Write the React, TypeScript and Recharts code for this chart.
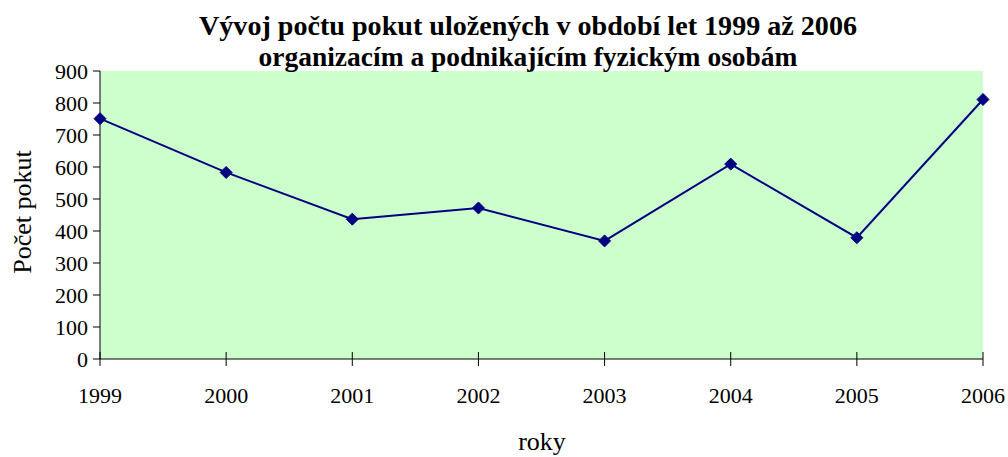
import * as React from "react"
import { LineChart, Line, XAxis, YAxis, CartesianGrid, Customized } from "recharts"

const years = ["1999", "2000", "2001", "2002", "2003", "2004", "2005", "2006"]
const fines = [751, 583, 437, 472, 369, 609, 379, 811]
const yTicks = [0, 100, 200, 300, 400, 500, 600, 700, 800, 900]

const titleLine1 = "Vývoj počtu pokut uložených v období let 1999 až 2006"
const titleLine2 = "organizacím a podnikajícím fyzickým osobám"
const yTitle = "Počet pokut"
const xTitle = "roky"

const data = years.map((y, i) => ({ year: y, value: fines[i] }))

const FONT = "'Liberation Serif', 'Times New Roman', serif"

function Diamond(props: any) {
  const { cx, cy } = props
  if (cx == null || cy == null) return null
  const r = 6
  return (
    <polygon
      points={`${cx},${cy - r} ${cx + r},${cy} ${cx},${cy + r} ${cx - r},${cy}`}
      fill="#000080"
      stroke="#000080"
    />
  )
}

function YearTick(props: any) {
  const { x, y, payload } = props
  return (
    <g>
      <line x1={x} x2={x} y1={y - 7} y2={y + 7} stroke="#000" strokeWidth={1} />
      <text x={x} y={y + 44} textAnchor="middle" fontFamily={FONT} fontSize={22} fill="#000">
        {payload.value}
      </text>
    </g>
  )
}

function Titles() {
  return (
    <g fontFamily={FONT} fill="#000">
      <text x={528} y={35} textAnchor="middle" fontSize={27} fontWeight="bold"
        textLength={658} lengthAdjust="spacingAndGlyphs">
        {titleLine1}
      </text>
      <text x={528} y={66} textAnchor="middle" fontSize={27} fontWeight="bold"
        textLength={539} lengthAdjust="spacingAndGlyphs">
        {titleLine2}
      </text>
      <text x={31} y={212} textAnchor="middle" fontSize={26} transform="rotate(-90, 31, 212)">
        {yTitle}
      </text>
      <text x={542} y={450} textAnchor="middle" fontSize={26}>
        {xTitle}
      </text>
    </g>
  )
}

export default function App() {
  return (
    <div style={{ position: "absolute", left: 0, top: 0, width: 1008, height: 457, background: "#fff" }}>
      <LineChart width={1008} height={457} data={data} margin={{ top: 71, right: 25, bottom: 0, left: 0 }}>
        <CartesianGrid fill="#CCFFCC" stroke="none" horizontal={false} vertical={false} />
        <XAxis
          dataKey="year"
          height={98}
          tickSize={0}
          tickMargin={0}
          tick={<YearTick />}
          axisLine={{ stroke: "#000", strokeWidth: 1 }}
          interval={0}
        />
        <YAxis
          width={100}
          domain={[0, 900]}
          ticks={yTicks}
          tickSize={7}
          tickMargin={5}
          axisLine={{ stroke: "#000" }}
          tickLine={{ stroke: "#000" }}
          tick={{ fontFamily: FONT, fontSize: 22, fill: "#000" }}
        />
        <Line
          dataKey="value"
          stroke="#000080"
          strokeWidth={2}
          dot={<Diamond />}
          activeDot={false}
          isAnimationActive={false}
        />
        <Customized component={<Titles />} />
      </LineChart>
    </div>
  )
}
